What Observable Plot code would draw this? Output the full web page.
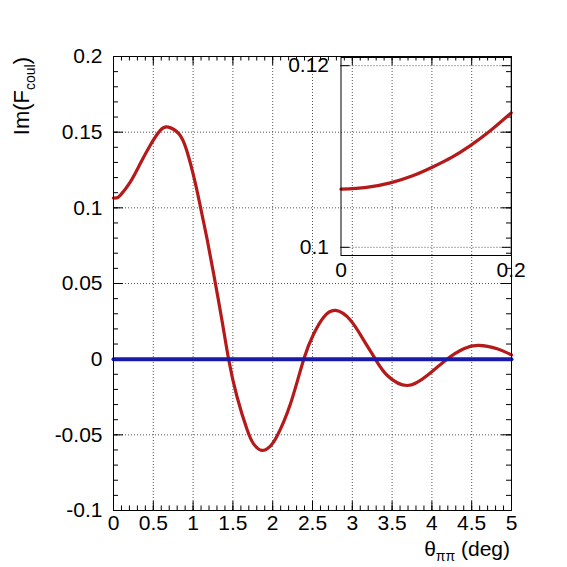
<!DOCTYPE html>
<html><head><meta charset="utf-8">
<script src="https://cdn.jsdelivr.net/npm/d3@7"></script>
<script src="https://cdn.jsdelivr.net/npm/@observablehq/plot@0.6"></script>
<style>
body{margin:0;background:#fff}
#wrap{position:relative;width:567px;height:567px}
</style>
</head><body><div id="wrap"></div>
<script>
// Main curve: Im(F_coul) vs theta (deg)
const thetaDeg = [0, 0.04, 0.084, 0.21, 0.335, 0.46, 0.587, 0.69, 0.82, 0.92, 1.03, 1.11, 1.175, 1.258, 1.363, 1.445, 1.55, 1.678, 1.76, 1.866, 1.97, 2.055, 2.22, 2.39, 2.516, 2.64, 2.79, 2.98, 3.145, 3.29, 3.44, 3.69, 3.94, 4.19, 4.40, 4.59, 4.82, 5.0];
const imF = [0.1064, 0.1066, 0.1082, 0.117, 0.1291, 0.1412, 0.1512, 0.1533, 0.1490, 0.1379, 0.1159, 0.0961, 0.0796, 0.0564, 0.0256, 0.0003, -0.0245, -0.0465, -0.0560, -0.0603, -0.0574, -0.0508, -0.0300, 0, 0.0168, 0.0277, 0.0322, 0.0256, 0.0124, 0, -0.0108, -0.0174, -0.0108, 0, 0.0069, 0.0091, 0.0069, 0.0028];
// Zero reference line
const zeroX = [0, 5];
const zeroY = [0, 0];
// Inset (zoom near theta = 0)
const insetTheta = [0, 0.03, 0.058, 0.085, 0.109, 0.13, 0.152, 0.175, 0.2];
const insetImF = [0.1064, 0.1066, 0.1071, 0.1079, 0.1089, 0.1099, 0.1112, 0.1128, 0.1148];
// Ticks
const xMajor = [0, 0.5, 1, 1.5, 2, 2.5, 3, 3.5, 4, 4.5, 5];
const yMajor = [-0.1, -0.05, 0, 0.05, 0.1, 0.15, 0.2];
const xMinor = d3.range(51).map(i => i / 10);
const yMinor = d3.range(31).map(i => (i - 10) / 100);
const insetXTicks = [0, 0.2];
const insetYTicks = [0.1, 0.12];

const W = 567, H = 567, mL = 113, mR = 56, mT = 56, mB = 57;
const iW = W - mL - mR, iH = H - mT - mB;
const font = "'Liberation Sans', Arial, Helvetica, sans-serif";
const gridStyle = {stroke: "#555", strokeOpacity: 1, strokeDasharray: "1,2", strokeWidth: 1};
const red = "#b41a1a", blue = "#1a1aaa";

const main = Plot.plot({
  width: W, height: H,
  marginLeft: mL, marginRight: mR, marginTop: mT, marginBottom: mB,
  style: {fontFamily: font, fontSize: "21px", background: "white", color: "black"},
  x: {domain: [0, 5]},
  y: {domain: [-0.1, 0.2]},
  marks: [
    Plot.gridX({ticks: xMajor, ...gridStyle}),
    Plot.gridY({ticks: yMajor, ...gridStyle}),
    // inward ticks on all four sides
    Plot.ruleX(xMajor, {x: d => d, insetTop: iH - 9, stroke: "black"}),
    Plot.ruleX(xMajor, {x: d => d, insetBottom: iH - 9, stroke: "black"}),
    Plot.ruleX(xMinor, {x: d => d, insetTop: iH - 4.5, stroke: "black"}),
    Plot.ruleX(xMinor, {x: d => d, insetBottom: iH - 4.5, stroke: "black"}),
    Plot.ruleY(yMajor, {y: d => d, insetRight: iW - 10, stroke: "black"}),
    Plot.ruleY(yMajor, {y: d => d, insetLeft: iW - 10, stroke: "black"}),
    Plot.ruleY(yMinor, {y: d => d, insetRight: iW - 5, stroke: "black"}),
    Plot.ruleY(yMinor, {y: d => d, insetLeft: iW - 5, stroke: "black"}),
    Plot.axisX({ticks: xMajor, tickSize: 0, tickPadding: 5, tickFormat: d => String(d), label: null}),
    Plot.axisY({ticks: yMajor, tickSize: 0, tickPadding: 11, tickFormat: d => String(d), label: null}),
    Plot.line(thetaDeg, {x: thetaDeg, y: imF, curve: "natural", stroke: red, strokeWidth: 3.2}),
    Plot.line(zeroX, {x: zeroX, y: zeroY, stroke: blue, strokeWidth: 4}),
    Plot.frame({stroke: "black"})
  ]
});

const wrap = document.getElementById("wrap");
main.style.position = "absolute";
main.style.left = "0px";
main.style.top = "0px";
wrap.appendChild(main);

// Axis titles with subscripts
const svg = d3.select(main);
const yl = svg.append("text")
  .attr("transform", "translate(29,57) rotate(-90)")
  .attr("text-anchor", "end")
  .attr("font-family", font).attr("font-size", 22).attr("fill", "black");
yl.append("tspan").text("Im(F");
yl.append("tspan").attr("font-size", 14).attr("dy", 6).text("coul");
yl.append("tspan").attr("dy", -6).text(")");

const xl = svg.append("text")
  .attr("x", 510).attr("y", 556)
  .attr("text-anchor", "end")
  .attr("font-family", font).attr("font-size", 21).attr("fill", "black");
xl.append("tspan").text("θ");
xl.append("tspan").attr("font-size", 14).attr("dy", 5).text("ππ");
xl.append("tspan").attr("dy", -5).text(" (deg)");

// Inset
const IW = 240, IH = 250, imL = 50.5, imR = 19.3, imT = 17, imB = 35;
const iiW = IW - imL - imR;
const inset = Plot.plot({
  width: IW, height: IH,
  marginLeft: imL, marginRight: imR, marginTop: imT, marginBottom: imB,
  style: {fontFamily: font, fontSize: "21px", background: "transparent", color: "black", overflow: "visible"},
  x: {domain: [0, 0.2]},
  y: {domain: [0.0991, 0.1209]},
  marks: [
    Plot.gridY({ticks: insetYTicks, ...gridStyle}),
    Plot.ruleY(insetYTicks, {y: d => d, insetRight: iiW - 9, stroke: "black"}),
    Plot.ruleY(insetYTicks, {y: d => d, insetLeft: iiW - 9, stroke: "black"}),
    Plot.axisX({ticks: insetXTicks, tickSize: 0, tickPadding: 7, tickFormat: d => String(d), label: null}),
    Plot.axisY({ticks: insetYTicks, tickSize: 0, tickPadding: 12, tickFormat: d => String(d), label: null}),
    Plot.line(insetTheta, {x: insetTheta, y: insetImF, curve: "natural", stroke: red, strokeWidth: 3.2}),
    Plot.frame({stroke: "black"})
  ]
});
inset.style.position = "absolute";
inset.style.left = "290px";
inset.style.top = "40px";
wrap.appendChild(inset);
</script>
</body></html>
